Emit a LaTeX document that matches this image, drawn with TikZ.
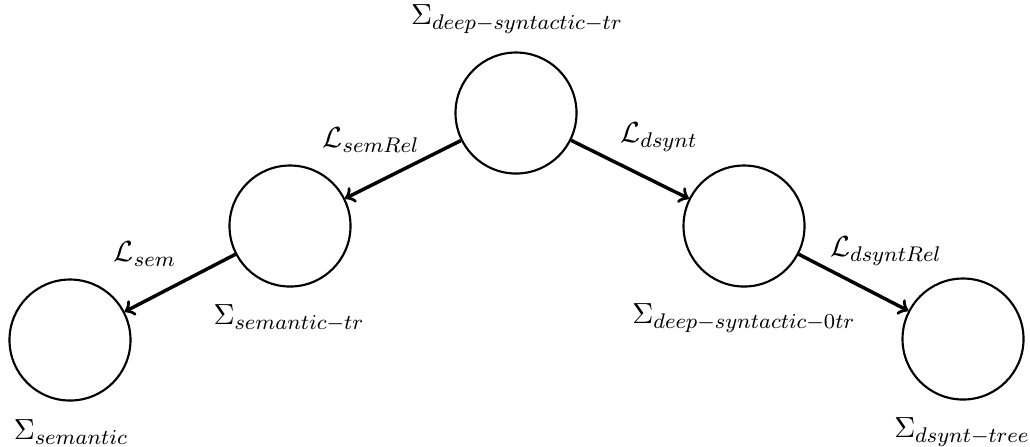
\documentclass[tikz,border=0pt,11pt]{standalone}
\usepackage{amsmath}
\usepackage{amssymb}

\tikzset{
  state/.style={circle, draw, line width=0.8pt, minimum size=45.6pt, inner sep=0pt},
  trans/.style={->, line width=1.3pt},
  lbl/.style={inner sep=0.75pt}
}

\begin{document}
\begin{tikzpicture}[x=0.3768pt,y=0.3768pt,yscale=-1,xscale=1]
\useasboundingbox (0,0) rectangle (1030,446);
% states
\node [state] (dstr) at (516,113) {};
\node [state] (semtr) at (290,226) {};
\node [state] (dsyn0) at (744,226) {};
\node [state] (sem) at (70,340) {};
\node [state] (dtree) at (963,339) {};
% transitions
\draw [trans] (dstr) -- (semtr);
\draw [trans] (dstr) -- (dsyn0);
\draw [trans] (semtr) -- (sem);
\draw [trans] (dsyn0) -- (dtree);
% names of the states
\node [lbl] (ndstr) at (517,19) {$\Sigma_{deep-syntactic-tr}$};
\node [lbl] (nsemtr) at (289,318) {$\Sigma_{semantic-tr}$};
\node [lbl] (ndsyn0) at (744,318) {$\Sigma_{deep-syntactic-0tr}$};
\node [lbl] (nsem) at (71,432) {$\Sigma_{semantic}$};
\node [lbl] (ndtree) at (962,432) {$\Sigma_{dsynt-tree}$};
% names of the transitions
\node [lbl] (lsemrel) at (371,140) {$\mathcal{L}_{semRel}$};
\node [lbl] (ldsynt) at (659,137) {$\mathcal{L}_{dsynt}$};
\node [lbl] (lsem) at (145,254) {$\mathcal{L}_{sem}$};
\node [lbl] (ldsyntrel) at (886,251) {$\mathcal{L}_{dsyntRel}$};
\end{tikzpicture}
\end{document}
